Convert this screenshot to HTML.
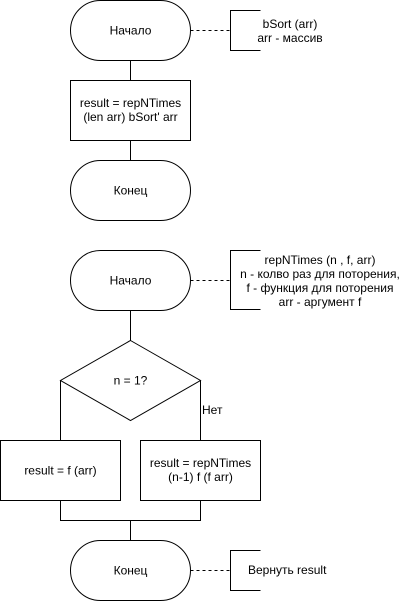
<!DOCTYPE html>
<html><head><meta charset="utf-8"><style>
html,body{margin:0;padding:0;background:#fff;}
svg{display:block;}
text{font-family:"Liberation Sans",Arial,sans-serif;font-size:12px;fill:#000;}
</style></head><body>
<svg width="408" height="602" viewBox="0 0 408 602" xmlns="http://www.w3.org/2000/svg">
<g fill="none" stroke="#000" stroke-width="1">
<!-- top section -->
<rect x="70.5" y="0.5" width="120" height="60" rx="30" ry="30" fill="#fff"/>
<path d="M190.5 30.5H230.5" stroke-dasharray="3,3"/>
<path d="M260.5 10.5H230.5V50.5H260.5"/>
<path d="M130.5 60.5V80.5"/>
<rect x="70.5" y="80.5" width="120" height="60"/>
<path d="M130.5 140.5V160.5"/>
<rect x="70.5" y="160.5" width="120" height="60" rx="30" ry="30"/>
<!-- second section -->
<rect x="70.5" y="250.5" width="120" height="60" rx="30" ry="30"/>
<path d="M190.5 280.5H230.5" stroke-dasharray="3,3"/>
<path d="M260.5 250.5H230.5V309.5H260.5"/>
<path d="M130.5 310.5V340.5"/>
<path d="M130.5 340.5L200.5 380.5L130.5 420.5L60.5 380.5Z"/>
<path d="M60.5 380.5V440.5"/>
<path d="M200.5 380.5V440.5"/>
<rect x="0.5" y="440.5" width="120" height="60"/>
<rect x="140.5" y="440.5" width="120" height="60"/>
<path d="M60.5 500.5V520.5H200.5V500.5"/>
<path d="M130.5 520.5V540.5"/>
<rect x="70.5" y="540.5" width="120" height="60" rx="30" ry="30"/>
<path d="M190.5 570.5H230.5" stroke-dasharray="3,3"/>
<path d="M260.5 550.5H230.5V590.5H260.5"/>
</g>
<g text-anchor="middle">
<text x="130.5" y="34.5">Начало</text>
<text x="290" y="28">bSort (arr)</text>
<text x="290" y="42">arr - массив</text>
<text x="130.5" y="107">result = repNTimes</text>
<text x="130.5" y="121">(len arr) bSort' arr</text>
<text x="130.5" y="194.5">Конец</text>
<text x="130.5" y="284.5">Начало</text>
<text x="320" y="264">repNTimes (n , f, arr)</text>
<text x="320" y="278">n - колво раз для поторения,</text>
<text x="320" y="292">f - функция для поторения</text>
<text x="320" y="306">arr - аргумент f</text>
<text x="130.5" y="384.5">n = 1?</text>
<text x="60.5" y="474.5">result = f (arr)</text>
<text x="200.5" y="467">result = repNTimes</text>
<text x="200.5" y="481">(n-1) f (f arr)</text>
<text x="130.5" y="574.5">Конец</text>
</g>
<text x="202" y="414">Нет</text>
<text x="248" y="574">Вернуть result</text>
</svg>
</body></html>
